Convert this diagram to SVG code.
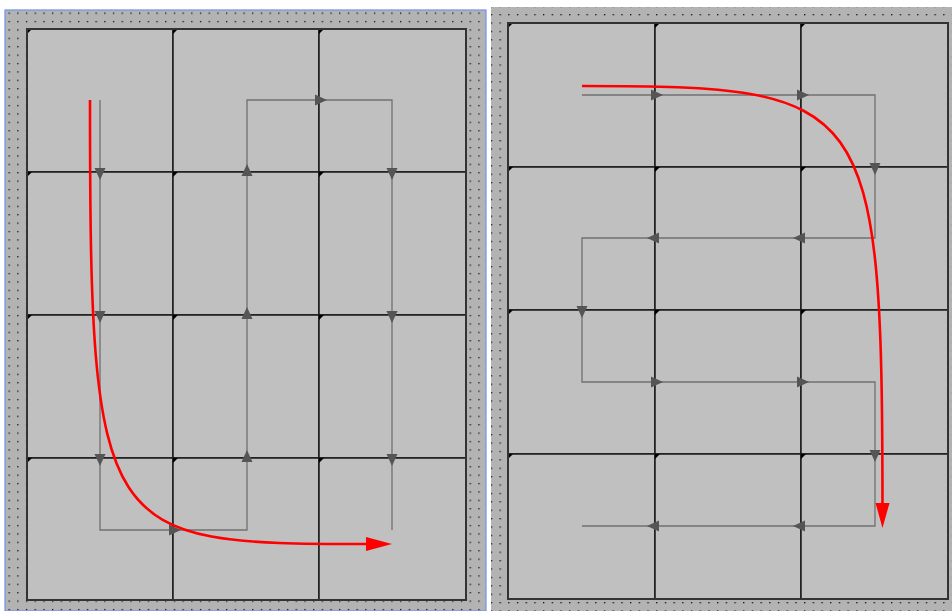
<svg xmlns="http://www.w3.org/2000/svg" xmlns:xlink="http://www.w3.org/1999/xlink" width="952" height="611" viewBox="0 0 952 611">
<style>
.panel{fill:url(#dotsL);}
.cell{fill:#c0c0c0;stroke:#1a1a1a;stroke-width:1.5;}
.corner{fill:#000;}
.frame{fill:none;stroke:#333;stroke-width:2;}
.conn{fill:none;stroke:#707070;stroke-width:1.3;}
.ah{fill:#555;}
.red{fill:none;stroke:#ff0000;stroke-width:2.6;}
.redh{fill:#ff0000;}
</style>
<defs>
<pattern id="dotsL" patternUnits="userSpaceOnUse" x="8.5" y="12.5" width="8.7" height="8.4">
<rect width="8.7" height="8.4" fill="#b3b3b3"/>
<rect width="1.3" height="1.3" fill="#111"/>
</pattern>
<pattern id="dotsR" patternUnits="userSpaceOnUse" x="499.5" y="14" width="8.7" height="8.4">
<rect width="8.7" height="8.4" fill="#b3b3b3"/>
<rect width="1.3" height="1.3" fill="#111"/>
</pattern>
<path id="tri" d="M-4,-5.5 L8,0 L-4,5.5 Z"/>
<path id="cn" d="M0,0 H5 L0,5 Z"/>
</defs>
<rect width="952" height="611" fill="#ffffff"/>
<g id="panel-left">
<rect x="5" y="10" width="481" height="601" fill="url(#dotsL)" stroke="#6f8ff0" stroke-width="1.2"/>
</g>
<g id="panel-right">
<rect x="491" y="7" width="461" height="604" fill="url(#dotsR)"/>
</g>
<g id="left-cells">
<g id="L-r1c1"><rect class="cell" x="27" y="29" width="146" height="143"/><use href="#cn" class="corner" x="27" y="29"/></g>
<g id="L-r1c2"><rect class="cell" x="173" y="29" width="146" height="143"/><use href="#cn" class="corner" x="173" y="29"/></g>
<g id="L-r1c3"><rect class="cell" x="319" y="29" width="147" height="143"/><use href="#cn" class="corner" x="319" y="29"/></g>
<g id="L-r2c1"><rect class="cell" x="27" y="172" width="146" height="143"/><use href="#cn" class="corner" x="27" y="172"/></g>
<g id="L-r2c2"><rect class="cell" x="173" y="172" width="146" height="143"/><use href="#cn" class="corner" x="173" y="172"/></g>
<g id="L-r2c3"><rect class="cell" x="319" y="172" width="147" height="143"/><use href="#cn" class="corner" x="319" y="172"/></g>
<g id="L-r3c1"><rect class="cell" x="27" y="315" width="146" height="143"/><use href="#cn" class="corner" x="27" y="315"/></g>
<g id="L-r3c2"><rect class="cell" x="173" y="315" width="146" height="143"/><use href="#cn" class="corner" x="173" y="315"/></g>
<g id="L-r3c3"><rect class="cell" x="319" y="315" width="147" height="143"/><use href="#cn" class="corner" x="319" y="315"/></g>
<g id="L-r4c1"><rect class="cell" x="27" y="458" width="146" height="142"/><use href="#cn" class="corner" x="27" y="458"/></g>
<g id="L-r4c2"><rect class="cell" x="173" y="458" width="146" height="142"/><use href="#cn" class="corner" x="173" y="458"/></g>
<g id="L-r4c3"><rect class="cell" x="319" y="458" width="147" height="142"/><use href="#cn" class="corner" x="319" y="458"/></g>
<rect class="frame" x="27" y="29" width="439" height="571"/>
</g>
<g id="right-cells">
<g id="R-r1c1"><rect class="cell" x="508" y="23" width="147" height="144"/><use href="#cn" class="corner" x="508" y="23"/></g>
<g id="R-r1c2"><rect class="cell" x="655" y="23" width="146" height="144"/><use href="#cn" class="corner" x="655" y="23"/></g>
<g id="R-r1c3"><rect class="cell" x="801" y="23" width="147" height="144"/><use href="#cn" class="corner" x="801" y="23"/></g>
<g id="R-r2c1"><rect class="cell" x="508" y="167" width="147" height="143"/><use href="#cn" class="corner" x="508" y="167"/></g>
<g id="R-r2c2"><rect class="cell" x="655" y="167" width="146" height="143"/><use href="#cn" class="corner" x="655" y="167"/></g>
<g id="R-r2c3"><rect class="cell" x="801" y="167" width="147" height="143"/><use href="#cn" class="corner" x="801" y="167"/></g>
<g id="R-r3c1"><rect class="cell" x="508" y="310" width="147" height="144"/><use href="#cn" class="corner" x="508" y="310"/></g>
<g id="R-r3c2"><rect class="cell" x="655" y="310" width="146" height="144"/><use href="#cn" class="corner" x="655" y="310"/></g>
<g id="R-r3c3"><rect class="cell" x="801" y="310" width="147" height="144"/><use href="#cn" class="corner" x="801" y="310"/></g>
<g id="R-r4c1"><rect class="cell" x="508" y="454" width="147" height="145"/><use href="#cn" class="corner" x="508" y="454"/></g>
<g id="R-r4c2"><rect class="cell" x="655" y="454" width="146" height="145"/><use href="#cn" class="corner" x="655" y="454"/></g>
<g id="R-r4c3"><rect class="cell" x="801" y="454" width="147" height="145"/><use href="#cn" class="corner" x="801" y="454"/></g>
<rect class="frame" x="508" y="23" width="440" height="576"/>
</g>
<g id="connectors">
<path class="conn" d="M100,100 V530 H247 V100 H392 V530"/>
<g class="ah">
<use href="#tri" transform="translate(100,172) rotate(90)"/>
<use href="#tri" transform="translate(100,315) rotate(90)"/>
<use href="#tri" transform="translate(100,458) rotate(90)"/>
<use href="#tri" transform="translate(173,530)"/>
<use href="#tri" transform="translate(247,458) rotate(-90)"/>
<use href="#tri" transform="translate(247,315) rotate(-90)"/>
<use href="#tri" transform="translate(247,172) rotate(-90)"/>
<use href="#tri" transform="translate(319,100)"/>
<use href="#tri" transform="translate(392,172) rotate(90)"/>
<use href="#tri" transform="translate(392,315) rotate(90)"/>
<use href="#tri" transform="translate(392,458) rotate(90)"/>
</g>
<path class="conn" d="M582,95 H875 V238 H582 V382 H875 V526 H582"/>
<g class="ah">
<use href="#tri" transform="translate(655,95)"/>
<use href="#tri" transform="translate(801,95)"/>
<use href="#tri" transform="translate(875,167) rotate(90)"/>
<use href="#tri" transform="translate(801,238) rotate(180)"/>
<use href="#tri" transform="translate(655,238) rotate(180)"/>
<use href="#tri" transform="translate(582,310) rotate(90)"/>
<use href="#tri" transform="translate(655,382)"/>
<use href="#tri" transform="translate(801,382)"/>
<use href="#tri" transform="translate(875,454) rotate(90)"/>
<use href="#tri" transform="translate(801,526) rotate(180)"/>
<use href="#tri" transform="translate(655,526) rotate(180)"/>
</g>
<path class="red" d="M90,100 C90,540 100,544 368,544"/>
<polygon class="redh" points="366,537 392,544 366,551"/>
<path class="red" d="M582,86 C870,86 882,96 882.5,505"/>
<polygon class="redh" points="875.5,503 889.5,503 882.5,528"/>
</g>
</svg>
